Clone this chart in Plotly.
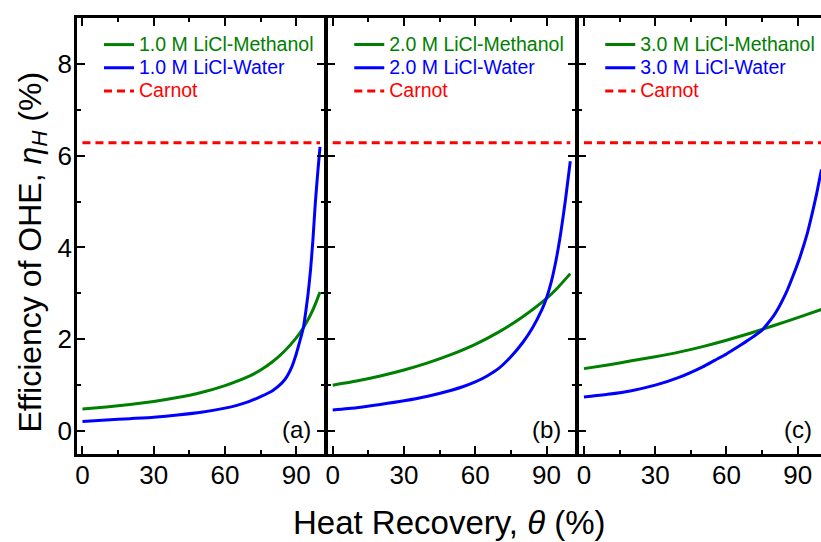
import plotly.graph_objects as go

# Heat-recovery ratio (%) and OHE efficiency (%) for each LiCl concentration
theta_a_meoh = [0, 10, 20, 30, 40, 50, 60, 70, 75, 80, 85, 90, 93, 96, 98, 100]
eta_a_meoh = [0.48, 0.525, 0.58, 0.645, 0.73, 0.84, 0.99, 1.19, 1.33, 1.51, 1.74, 2.03, 2.25, 2.53, 2.76, 3.03]
theta_a_water = [0, 10, 20, 30, 40, 50, 60, 65, 70, 75, 80, 84, 86, 88, 90, 92, 93, 94, 95, 96, 97, 98, 99, 100]
eta_a_water = [0.21, 0.24, 0.27, 0.30, 0.35, 0.41, 0.50, 0.56, 0.64, 0.75, 0.88, 1.05, 1.18, 1.38, 1.68,
               2.05, 2.25, 2.60, 3.00, 3.50, 4.15, 4.95, 5.60, 6.19]

theta_b_meoh = [0, 10, 20, 30, 40, 50, 60, 70, 80, 90, 95, 100]
eta_b_meoh = [1.00, 1.09, 1.20, 1.33, 1.485, 1.67, 1.89, 2.16, 2.49, 2.89, 3.14, 3.43]
theta_b_water = [0, 10, 20, 30, 40, 50, 55, 60, 65, 70, 75, 80, 84, 88, 90, 92, 94, 96, 98, 100]
eta_b_water = [0.46, 0.51, 0.58, 0.66, 0.76, 0.89, 0.97, 1.07, 1.20, 1.37, 1.62, 1.93, 2.24, 2.64,
               2.90, 3.25, 3.72, 4.32, 5.05, 5.88]

theta_c_meoh = [0, 10, 20, 30, 40, 50, 60, 70, 80, 90, 100]
eta_c_meoh = [1.36, 1.44, 1.53, 1.62, 1.72, 1.84, 1.98, 2.13, 2.30, 2.47, 2.65]
theta_c_water = [0, 10, 20, 30, 40, 50, 55, 60, 65, 70, 75, 80, 85, 88, 91, 94, 96, 98, 100]
eta_c_water = [0.74, 0.80, 0.88, 1.00, 1.17, 1.40, 1.54, 1.68, 1.84, 2.01, 2.20, 2.52, 3.00, 3.38,
               3.80, 4.30, 4.72, 5.18, 5.70]

theta_carnot = [0, 100]
eta_carnot = [6.28, 6.28]

concentrations = ["1.0", "2.0", "3.0"]
panel_tags = ["(a)", "(b)", "(c)"]

GREEN = "#008000"
BLUE = "#0000ff"
RED = "#ff0000"
FONT = "Liberation Sans"

panels = [
    (theta_a_meoh, eta_a_meoh, theta_a_water, eta_a_water),
    (theta_b_meoh, eta_b_meoh, theta_b_water, eta_b_water),
    (theta_c_meoh, eta_c_meoh, theta_c_water, eta_c_water),
]


def legend_label(text, color):
    return f"<span style='color:{color};font-size:19.5px'>{text}</span>"


fig = go.Figure()

for i, (tm, em, tw, ew) in enumerate(panels):
    suffix = "" if i == 0 else str(i + 1)
    xa, ya, lg = "x" + suffix, "y" + suffix, "legend" + suffix
    conc = concentrations[i]
    fig.add_trace(go.Scatter(
        x=tm, y=em, mode="lines", xaxis=xa, yaxis=ya, legend=lg,
        line=dict(color=GREEN, width=3, shape="spline", smoothing=0.5),
        name=legend_label(f"{conc} M LiCl-Methanol", GREEN)))
    fig.add_trace(go.Scatter(
        x=tw, y=ew, mode="lines", xaxis=xa, yaxis=ya, legend=lg,
        line=dict(color=BLUE, width=3, shape="spline", smoothing=0.5),
        name=legend_label(f"{conc} M LiCl-Water", BLUE)))
    fig.add_trace(go.Scatter(
        x=theta_carnot, y=eta_carnot, mode="lines", xaxis=xa, yaxis=ya, legend=lg,
        line=dict(color=RED, width=3, dash="8px,5px"),
        name=legend_label("Carnot", RED)))
    fig.add_annotation(
        x=97, y=0.03, xref=xa, yref=ya, xanchor="right", yanchor="middle",
        text=panel_tags[i], showarrow=False, font=dict(family=FONT, size=24, color="black"))

# panel widths in pixels; neighbouring frames share one border line
W = 744.0
domains = [[0, 247.75 / W], [250.25 / W, 498.75 / W], [501.25 / W, 1]]
x_ranges = [[-2.3, 102.0], [-2.3, 102.3], [-2.4, 99.8]]

axis_common = dict(
    showline=True, linecolor="black", linewidth=2.5, showgrid=False, zeroline=False,
    ticks="inside", ticklen=8, tickwidth=2, tickcolor="black",
    tickfont=dict(family=FONT, size=26, color="black"),
)

layout_axes = {}
for i in range(3):
    suffix = "" if i == 0 else str(i + 1)
    layout_axes["xaxis" + suffix] = dict(
        axis_common, domain=domains[i], range=x_ranges[i], anchor="y" + suffix,
        tickvals=[0, 30, 60, 90], mirror="ticks", ticklabelstandoff=-4,
        minor=dict(ticks="inside", ticklen=4, tickwidth=2, tickcolor="black", dtick=15, tick0=0))
    layout_axes["yaxis" + suffix] = dict(
        axis_common, range=[-0.5, 9], anchor="x" + suffix,
        tickvals=[0, 2, 4, 6, 8], mirror="ticks" if i < 2 else False,
        showticklabels=(i == 0), ticklabelstandoff=-3,
        minor=dict(ticks="inside", ticklen=4, tickwidth=2, tickcolor="black", dtick=1, tick0=0))

legend_style = dict(
    bgcolor="rgba(0,0,0,0)", borderwidth=0, xanchor="left", yanchor="top",
    font=dict(family=FONT, size=15.5, color="black"), tracegroupgap=0, itemwidth=30)

lx = (99 - 77) / W
fig.update_layout(
    width=821, height=542,
    margin=dict(l=77, r=0, t=18, b=88),
    paper_bgcolor="white", plot_bgcolor="white",
    font=dict(family=FONT, color="black"),
    legend=dict(legend_style, x=lx, y=0.977),
    legend2=dict(legend_style, x=lx + 250.25 / W, y=0.977),
    legend3=dict(legend_style, x=lx + 501.25 / W, y=0.977),
    **layout_axes,
)

fig.add_annotation(
    x=0, y=(454 - 252.5) / 436, xref="paper", yref="paper", xanchor="center", yanchor="middle",
    xshift=-45, textangle=-90, showarrow=False,
    text="Efficiency of OHE, <i>η<sub>H</sub></i> (%)",
    font=dict(family=FONT, size=32, color="black"))

fig.add_annotation(
    x=0.5, y=0, xref="paper", yref="paper", xanchor="center", yanchor="middle", yshift=-68,
    text="Heat Recovery, <i>θ</i> (%)", showarrow=False,
    font=dict(family=FONT, size=33, color="black"))

fig.write_html("out.html")
